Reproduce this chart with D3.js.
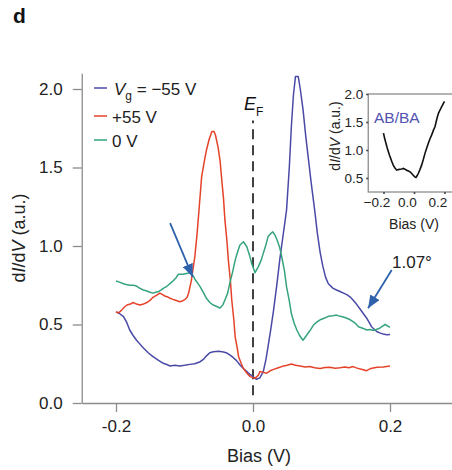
<!DOCTYPE html>
<html><head><meta charset="utf-8">
<script src="https://cdn.jsdelivr.net/npm/d3@7"></script>
<style>body{margin:0;background:#fff}svg{display:block;font-family:"Liberation Sans",Arial,sans-serif}</style>
</head><body><svg id="c" width="452" height="470"></svg>
<script>
// ---------- data ----------
const seriesNames = ["Vg = −55 V", "+55 V", "0 V"];
const yTicks = [0, 0.5, 1.0, 1.5, 2.0];
const xTicks = [-0.2, 0.0, 0.2];
const insetYTicks = [0.5, 1.0, 1.5, 2.0];
const insetXTicks = [-0.2, 0.0, 0.2];

const blueData = [[-0.200,0.58],[-0.195,0.57],[-0.189,0.55],[-0.184,0.51],[-0.180,0.465],[-0.175,0.43],[-0.170,0.40],[-0.165,0.375],[-0.160,0.35],[-0.153,0.32],[-0.146,0.295],[-0.139,0.275],[-0.131,0.253],[-0.126,0.245],[-0.121,0.236],[-0.114,0.24],[-0.107,0.236],[-0.100,0.24],[-0.092,0.246],[-0.085,0.25],[-0.077,0.263],[-0.072,0.28],[-0.068,0.30],[-0.063,0.32],[-0.058,0.327],[-0.050,0.33],[-0.043,0.325],[-0.038,0.318],[-0.034,0.306],[-0.029,0.29],[-0.024,0.27],[-0.019,0.242],[-0.014,0.22],[-0.009,0.20],[-0.004,0.18],[0.000,0.168],[0.005,0.151],[0.010,0.16],[0.015,0.20],[0.019,0.28],[0.022,0.36],[0.026,0.47],[0.030,0.59],[0.035,0.76],[0.039,0.91],[0.044,1.07],[0.049,1.23],[0.053,1.50],[0.056,1.76],[0.059,1.96],[0.062,2.08],[0.066,2.08],[0.069,2.00],[0.073,1.87],[0.077,1.70],[0.081,1.55],[0.085,1.40],[0.090,1.23],[0.094,1.08],[0.098,0.96],[0.102,0.87],[0.106,0.80],[0.110,0.76],[0.117,0.73],[0.122,0.72],[0.127,0.71],[0.132,0.70],[0.137,0.69],[0.142,0.675],[0.146,0.656],[0.151,0.63],[0.156,0.60],[0.161,0.57],[0.166,0.54],[0.170,0.51],[0.173,0.486],[0.177,0.47],[0.181,0.454],[0.186,0.445],[0.190,0.44],[0.195,0.435],[0.200,0.437]];

const redData = [[-0.200,0.58],[-0.196,0.575],[-0.192,0.59],[-0.188,0.61],[-0.184,0.624],[-0.179,0.63],[-0.175,0.64],[-0.170,0.63],[-0.165,0.624],[-0.160,0.63],[-0.155,0.64],[-0.150,0.655],[-0.146,0.673],[-0.141,0.685],[-0.136,0.70],[-0.132,0.69],[-0.128,0.68],[-0.124,0.675],[-0.121,0.667],[-0.117,0.66],[-0.114,0.656],[-0.110,0.65],[-0.107,0.645],[-0.103,0.65],[-0.099,0.66],[-0.096,0.675],[-0.094,0.70],[-0.092,0.74],[-0.090,0.78],[-0.087,0.87],[-0.085,0.93],[-0.082,1.06],[-0.079,1.22],[-0.075,1.44],[-0.071,1.54],[-0.068,1.61],[-0.064,1.68],[-0.060,1.73],[-0.057,1.73],[-0.055,1.71],[-0.051,1.63],[-0.048,1.54],[-0.046,1.44],[-0.043,1.30],[-0.041,1.166],[-0.038,1.03],[-0.036,0.91],[-0.033,0.78],[-0.031,0.656],[-0.028,0.53],[-0.026,0.42],[-0.023,0.35],[-0.021,0.295],[-0.017,0.25],[-0.014,0.22],[-0.009,0.19],[-0.004,0.168],[0.003,0.157],[0.008,0.178],[0.010,0.20],[0.015,0.195],[0.020,0.19],[0.025,0.205],[0.030,0.214],[0.037,0.225],[0.044,0.235],[0.050,0.24],[0.056,0.248],[0.062,0.24],[0.069,0.236],[0.076,0.23],[0.083,0.232],[0.090,0.225],[0.098,0.22],[0.105,0.226],[0.112,0.227],[0.120,0.222],[0.127,0.225],[0.134,0.23],[0.140,0.225],[0.146,0.232],[0.152,0.222],[0.158,0.215],[0.166,0.206],[0.172,0.22],[0.181,0.227],[0.190,0.23],[0.200,0.236]];

const greenData = [[-0.200,0.777],[-0.195,0.77],[-0.189,0.76],[-0.185,0.755],[-0.180,0.75],[-0.175,0.75],[-0.170,0.745],[-0.165,0.73],[-0.160,0.72],[-0.156,0.715],[-0.153,0.71],[-0.150,0.705],[-0.146,0.70],[-0.142,0.705],[-0.138,0.71],[-0.134,0.72],[-0.131,0.73],[-0.127,0.74],[-0.124,0.75],[-0.120,0.765],[-0.116,0.78],[-0.112,0.80],[-0.109,0.82],[-0.105,0.82],[-0.102,0.82],[-0.097,0.825],[-0.092,0.83],[-0.088,0.815],[-0.085,0.79],[-0.081,0.765],[-0.077,0.74],[-0.072,0.70],[-0.068,0.667],[-0.063,0.64],[-0.058,0.624],[-0.053,0.615],[-0.048,0.605],[-0.044,0.625],[-0.041,0.656],[-0.037,0.70],[-0.034,0.76],[-0.030,0.83],[-0.026,0.91],[-0.022,0.97],[-0.019,1.006],[-0.014,1.027],[-0.009,0.995],[-0.005,0.94],[-0.002,0.89],[0.003,0.83],[0.008,0.87],[0.012,0.91],[0.015,0.953],[0.019,1.01],[0.022,1.06],[0.026,1.08],[0.029,1.09],[0.032,1.07],[0.035,1.04],[0.039,0.99],[0.042,0.93],[0.046,0.84],[0.049,0.74],[0.053,0.65],[0.056,0.57],[0.060,0.51],[0.064,0.465],[0.068,0.43],[0.073,0.40],[0.078,0.43],[0.083,0.46],[0.088,0.495],[0.093,0.515],[0.098,0.53],[0.103,0.538],[0.110,0.552],[0.117,0.556],[0.122,0.56],[0.127,0.552],[0.132,0.548],[0.137,0.54],[0.142,0.53],[0.146,0.518],[0.150,0.505],[0.154,0.486],[0.161,0.475],[0.166,0.465],[0.171,0.468],[0.176,0.462],[0.181,0.47],[0.185,0.476],[0.189,0.49],[0.193,0.50],[0.197,0.49],[0.200,0.482]];

const insetData = [[-0.200,1.30],[-0.192,1.20],[-0.184,1.12],[-0.176,1.04],[-0.168,0.97],[-0.160,0.90],[-0.153,0.85],[-0.145,0.79],[-0.136,0.73],[-0.125,0.68],[-0.113,0.64],[-0.103,0.65],[-0.092,0.655],[-0.081,0.66],[-0.070,0.67],[-0.059,0.655],[-0.048,0.64],[-0.037,0.625],[-0.026,0.61],[-0.015,0.58],[-0.005,0.55],[0.005,0.52],[0.013,0.51],[0.020,0.54],[0.028,0.58],[0.039,0.65],[0.050,0.73],[0.061,0.83],[0.072,0.94],[0.083,1.03],[0.094,1.12],[0.105,1.20],[0.116,1.27],[0.127,1.35],[0.138,1.42],[0.145,1.50],[0.153,1.59],[0.161,1.66],[0.170,1.71],[0.181,1.77],[0.192,1.83],[0.200,1.87]];

// annotation arrows in data coordinates [tail, tip]
const arrowLeft = [[-0.121,1.146],[-0.088,0.803]];
const arrowRight = [[0.2025,0.847],[0.168,0.603]];
const efLine = [[0,0.05],[0,1.80]];

// ---------- drawing ----------
const colors = ["#4a4aa6", "#e4432a", "#35a47c"];
const arrowColor = "#2f62ad";
const axisColor = "#8c8c8c";
const svg = d3.select("#c");

const x = d3.scaleLinear().domain([-0.25, 0.3]).range([81.75, 458.5]);
const y = d3.scaleLinear().domain([0, 2.1]).range([403, 73.3]);

// axes
const gy = svg.append("g").attr("transform", `translate(${x(-0.25)},0)`)
  .call(d3.axisLeft(y).tickValues(yTicks).tickFormat(d => d.toFixed(1)).tickSize(9).tickSizeOuter(0).tickPadding(10));
const gx = svg.append("g").attr("transform", `translate(0,${y(0)})`)
  .call(d3.axisBottom(x).tickValues(xTicks).tickFormat(d => d.toFixed(1)).tickSize(9).tickSizeOuter(0).tickPadding(8));
[gx, gy].forEach(g => {
  g.select(".domain").attr("stroke", axisColor).attr("stroke-width", 1.3);
  g.selectAll(".tick line").attr("stroke", axisColor).attr("stroke-width", 1.3);
  g.selectAll(".tick text").attr("fill", "#222").attr("font-size", 17).attr("font-family", "Liberation Sans, Arial, sans-serif");
});

// axis titles
const yt = svg.append("text").attr("transform", "translate(25,238) rotate(-90)")
  .attr("text-anchor", "middle").attr("font-size", 18).attr("fill", "#222");
yt.append("tspan").text("d");
yt.append("tspan").attr("font-style", "italic").text("I");
yt.append("tspan").text("/d");
yt.append("tspan").attr("font-style", "italic").text("V");
yt.append("tspan").text(" (a.u.)");
svg.append("text").attr("x", 259).attr("y", 462).attr("text-anchor", "middle")
  .attr("font-size", 18).attr("fill", "#222").text("Bias (V)");

// panel label
svg.append("text").attr("x", 13).attr("y", 23).attr("font-size", 21).attr("font-weight", "bold").attr("fill", "#111").text("d");

// E_F dashed line
const line = d3.line().x(d => x(d[0])).y(d => y(d[1]));
svg.append("path").attr("d", line(efLine)).attr("stroke", "#111").attr("stroke-width", 1.6)
  .attr("stroke-dasharray", "10,6").attr("fill", "none");
const ef = svg.append("text").attr("x", x(0) - 9).attr("y", 110).attr("font-size", 18).attr("fill", "#111");
ef.append("tspan").attr("font-style", "italic").text("E");
ef.append("tspan").attr("font-size", 12).attr("dy", 6).text("F");

// curves
[blueData, redData, greenData].forEach((d, i) => {
  svg.append("path").attr("d", line(d)).attr("fill", "none")
    .attr("stroke", colors[i]).attr("stroke-width", 1.5).attr("stroke-linejoin", "round");
});

// legend
const legY = [88, 116, 140];
const legBase = [95, 123, 147];
legY.forEach((ly, i) => {
  svg.append("line").attr("x1", 94).attr("x2", 107).attr("y1", ly).attr("y2", ly)
    .attr("stroke", colors[i]).attr("stroke-width", 1.5);
});
const l0 = svg.append("text").attr("x", 114).attr("y", legBase[0]).attr("font-size", 17).attr("fill", "#222");
l0.append("tspan").attr("font-style", "italic").text("V");
l0.append("tspan").attr("font-size", 12).attr("dy", 5).text("g");
l0.append("tspan").attr("dy", -5).text(" = −55 V");
svg.append("text").attr("x", 112).attr("y", legBase[1]).attr("font-size", 17).attr("fill", "#222").text(seriesNames[1]);
svg.append("text").attr("x", 112).attr("y", legBase[2]).attr("font-size", 17).attr("fill", "#222").text(seriesNames[2]);

// arrows
const defs = svg.append("defs");
defs.append("marker").attr("id", "ah").attr("viewBox", "0 0 12 10").attr("refX", 12).attr("refY", 5)
  .attr("markerWidth", 13).attr("markerHeight", 11).attr("markerUnits", "userSpaceOnUse").attr("orient", "auto")
  .append("path").attr("d", "M0,0 L12,5 L0,10 Z").attr("fill", arrowColor);
[arrowLeft, arrowRight].forEach(a => {
  svg.append("path").attr("d", line(a)).attr("stroke", arrowColor).attr("stroke-width", 1.8)
    .attr("fill", "none").attr("marker-end", "url(#ah)");
});
svg.append("text").attr("x", 392).attr("y", 268).attr("font-size", 17).attr("fill", "#222").text("1.07°");

// ---------- inset ----------
const xi = d3.scaleLinear().domain([-0.3, 0.3]).range([368.25, 459.75]);
const yi = d3.scaleLinear().domain([0.25, 2.0]).range([192, 94]);
svg.append("rect").attr("x", xi(-0.3)).attr("y", yi(2.0)).attr("width", xi(0.3) - xi(-0.3)).attr("height", yi(0.25) - yi(2.0))
  .attr("fill", "#fff").attr("stroke", axisColor).attr("stroke-width", 1.3);
const giy = svg.append("g").attr("transform", `translate(${xi(-0.3)},0)`)
  .call(d3.axisLeft(yi).tickValues(insetYTicks).tickFormat(d3.format(".1f")).tickSize(2).tickSizeOuter(0).tickPadding(3));
const gix = svg.append("g").attr("transform", `translate(0,${yi(0.25)})`)
  .call(d3.axisBottom(xi).tickValues(insetXTicks).tickFormat(d3.format(".1f")).tickSize(2).tickSizeOuter(0).tickPadding(3));
gix.selectAll(".tick text").attr("dx", -7);
[gix, giy].forEach(g => {
  g.select(".domain").remove();
  g.selectAll(".tick line").attr("stroke", "#444").attr("stroke-width", 1.6);
  g.selectAll(".tick text").attr("fill", "#222").attr("font-size", 13.5).attr("font-family", "Liberation Sans, Arial, sans-serif");
});
const iyt = svg.append("text").attr("transform", "translate(340,136) rotate(-90)")
  .attr("text-anchor", "middle").attr("font-size", 14).attr("fill", "#222");
iyt.append("tspan").text("d");
iyt.append("tspan").attr("font-style", "italic").text("I");
iyt.append("tspan").text("/d");
iyt.append("tspan").attr("font-style", "italic").text("V");
iyt.append("tspan").text(" (a.u.)");
svg.append("text").attr("x", 414).attr("y", 229).attr("text-anchor", "middle").attr("font-size", 14).attr("fill", "#222").text("Bias (V)");
const lineI = d3.line().x(d => xi(d[0])).y(d => yi(d[1]));
svg.append("path").attr("d", lineI(insetData)).attr("fill", "none").attr("stroke", "#111").attr("stroke-width", 1.6);
svg.append("text").attr("x", 374).attr("y", 123).attr("font-size", 15.5).attr("fill", "#5252b0").text("AB/BA");
</script></body></html>
